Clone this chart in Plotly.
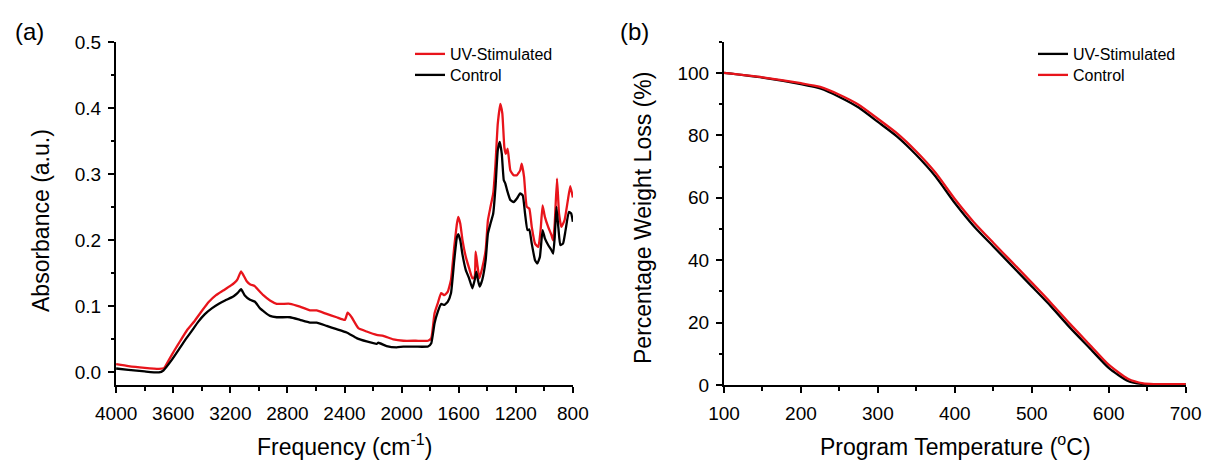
import plotly.graph_objects as go

# ---------------- (a) FTIR data ----------------
ftir_uv_wn = [4000, 3914, 3800, 3700, 3665, 3630, 3590, 3550, 3500, 3450, 3400, 3350, 3300, 3250,
              3200, 3170, 3150, 3125, 3105, 3085, 3060, 3030, 3000, 2969, 2922, 2875, 2782, 2712,
              2642, 2595, 2525, 2455, 2397, 2378, 2350, 2303, 2245, 2175, 2128, 2058, 1988, 1900,
              1815, 1792, 1769, 1746, 1723, 1700, 1677, 1654, 1631, 1612, 1603, 1589, 1573, 1550,
              1527, 1504, 1488, 1481, 1469, 1455, 1435, 1411, 1395, 1377, 1358, 1342, 1326, 1308,
              1294, 1280, 1270, 1257, 1238, 1215, 1192, 1169, 1158, 1142, 1123, 1105, 1088, 1065,
              1042, 1026, 1012, 996, 973, 950, 938, 927, 911, 897, 881, 858, 835, 818, 800]
ftir_uv_abs = [0.0125, 0.0095, 0.0070, 0.0055, 0.0065, 0.019, 0.034, 0.048, 0.065, 0.078, 0.093,
               0.107, 0.117, 0.124, 0.131, 0.136, 0.141, 0.153, 0.146, 0.138, 0.133, 0.131, 0.124,
               0.117, 0.109, 0.104, 0.104, 0.0997, 0.094, 0.094, 0.0886, 0.0836, 0.0796, 0.0906,
               0.0836, 0.067, 0.062, 0.057, 0.0554, 0.050, 0.048, 0.048, 0.048, 0.052, 0.0896,
               0.105, 0.120, 0.117, 0.122, 0.140, 0.190, 0.2256, 0.2356, 0.2256, 0.200, 0.175,
               0.158, 0.1425, 0.145, 0.183, 0.163, 0.1425, 0.158, 0.185, 0.2306, 0.2508, 0.271,
               0.316, 0.3766, 0.4068, 0.392, 0.341, 0.331, 0.339, 0.306, 0.2986, 0.2986, 0.306,
               0.316, 0.296, 0.251, 0.248, 0.2205, 0.195, 0.190, 0.2155, 0.253, 0.2356, 0.2205,
               0.208, 0.200, 0.2256, 0.2936, 0.2407, 0.2205, 0.2306, 0.2608, 0.282, 0.265]

ftir_ctrl_wn = [4000, 3914, 3800, 3700, 3669, 3610, 3560, 3517, 3470, 3424, 3380, 3330, 3280, 3237,
                3179, 3150, 3125, 3100, 3062, 3027, 2992, 2922, 2875, 2782, 2712, 2642, 2595, 2525,
                2455, 2385, 2315, 2245, 2175, 2163, 2105, 2035, 1988, 1900, 1815, 1792, 1769, 1746,
                1723, 1700, 1677, 1654, 1631, 1612, 1603, 1589, 1573, 1550, 1527, 1504, 1488, 1476,
                1465, 1453, 1435, 1411, 1395, 1377, 1358, 1342, 1326, 1312, 1298, 1284, 1273, 1261,
                1238, 1215, 1192, 1169, 1151, 1135, 1118, 1105, 1088, 1065, 1049, 1031, 1012, 996,
                973, 950, 938, 927, 915, 901, 888, 869, 851, 828, 812, 800]
ftir_ctrl_abs = [0.006, 0.004, 0.0015, 0.0, 0.003, 0.019, 0.035, 0.049, 0.063, 0.077, 0.088, 0.097,
                 0.104, 0.109, 0.115, 0.120, 0.126, 0.117, 0.110, 0.107, 0.097, 0.0856, 0.0836,
                 0.0836, 0.0796, 0.0755, 0.0755, 0.0705, 0.0655, 0.0604, 0.052, 0.047, 0.0433,
                 0.045, 0.040, 0.038, 0.039, 0.039, 0.0393, 0.0443, 0.0745, 0.092, 0.1037, 0.1022,
                 0.107, 0.120, 0.170, 0.2054, 0.2095, 0.200, 0.178, 0.155, 0.1425, 0.1274, 0.140,
                 0.1526, 0.140, 0.130, 0.140, 0.170, 0.2105, 0.2256, 0.2407, 0.281, 0.3364, 0.349,
                 0.331, 0.291, 0.286, 0.276, 0.261, 0.258, 0.2633, 0.271, 0.268, 0.2407, 0.2155,
                 0.2165, 0.195, 0.170, 0.165, 0.175, 0.2155, 0.203, 0.193, 0.185, 0.180, 0.2054,
                 0.2508, 0.218, 0.193, 0.195, 0.2155, 0.243, 0.2407, 0.228]

# ---------------- (b) TGA data ----------------
tga_temp = [100, 150, 200, 225, 250, 275, 300, 325, 350, 375, 400, 425, 450, 475, 500, 525, 550,
            575, 600, 625, 645, 660, 700]
tga_uv = [100, 98.5, 96.4, 95.0, 92.3, 88.9, 84.3, 79.6, 73.7, 66.8, 58.3, 50.8, 44.4, 38.0, 31.6,
          25.2, 18.3, 11.9, 5.5, 1.3, 0.3, 0.3, 0.3]
tga_ctrl = [100, 98.6, 96.7, 95.5, 93.0, 89.8, 85.3, 80.6, 74.8, 68.0, 59.6, 52.1, 45.6, 39.2, 32.8,
            26.3, 19.5, 13.0, 6.5, 2.0, 0.5, 0.3, 0.3]

x_ticks_a = [4000, 3600, 3200, 2800, 2400, 2000, 1600, 1200, 800]
y_ticks_a = [0.0, 0.1, 0.2, 0.3, 0.4, 0.5]
x_ticks_b = [100, 200, 300, 400, 500, 600, 700]
y_ticks_b = [0, 20, 40, 60, 80, 100]

RED = "#e8141b"
BLACK = "#000000"
FONT = "Liberation Sans, Arial, sans-serif"
W, H = 1205, 461

fig = go.Figure()
fig.add_trace(go.Scatter(x=ftir_uv_wn, y=ftir_uv_abs, mode="lines", name="UV-Stimulated",
                         line=dict(color=RED, width=2.3, shape="spline", smoothing=0.4),
                         xaxis="x", yaxis="y", legend="legend"))
fig.add_trace(go.Scatter(x=ftir_ctrl_wn, y=ftir_ctrl_abs, mode="lines", name="Control",
                         line=dict(color=BLACK, width=2.3, shape="spline", smoothing=0.4),
                         xaxis="x", yaxis="y", legend="legend2"))
fig.add_trace(go.Scatter(x=tga_temp, y=tga_uv, mode="lines", name="UV-Stimulated",
                         line=dict(color=BLACK, width=2.3, shape="spline", smoothing=0.6),
                         xaxis="x2", yaxis="y2", legend="legend3"))
fig.add_trace(go.Scatter(x=tga_temp, y=tga_ctrl, mode="lines", name="Control",
                         line=dict(color=RED, width=2.3, shape="spline", smoothing=0.6),
                         xaxis="x2", yaxis="y2", legend="legend4"))


def px_x(p):
    return p / W


def px_y(p):
    return 1 - p / H


axis_common = dict(showline=True, linewidth=2, linecolor="black", ticks="outside", ticklen=6,
                   tickwidth=1.5, tickcolor="black", showgrid=False, zeroline=False,
                   tickfont=dict(family=FONT, size=19, color="black"), automargin=False)
minor_common = dict(ticks="outside", ticklen=3.5, tickwidth=1.5, tickcolor="black", showgrid=False)

ydom = [px_y(385), px_y(41.7)]


def legend_at(xp, yp):
    return dict(x=px_x(xp), y=px_y(yp), xanchor="left", yanchor="top",
                bgcolor="rgba(0,0,0,0)", font=dict(family=FONT, size=16, color="black"))


fig.update_layout(
    width=W, height=H, margin=dict(l=0, r=0, t=0, b=0),
    paper_bgcolor="white", plot_bgcolor="white",
    font=dict(family=FONT, color="black"),
    xaxis=dict(domain=[px_x(116), px_x(573)], range=[4001, 799], tickvals=x_ticks_a,
               minor=dict(dtick=200, **minor_common), anchor="y", ticklabelstandoff=4,
               **axis_common),
    yaxis=dict(domain=ydom, range=[-0.019, 0.5008], tickvals=y_ticks_a, tickformat=".1f",
               minor=dict(dtick=0.05, **minor_common), anchor="x", ticklabelstandoff=3,
               **axis_common),
    xaxis2=dict(domain=[px_x(724), px_x(1186)], range=[100, 700.5], tickvals=x_ticks_b,
                minor=dict(dtick=50, **minor_common), anchor="y2", ticklabelstandoff=4,
                **axis_common),
    yaxis2=dict(domain=ydom, range=[0, 110], tickvals=y_ticks_b,
                minor=dict(dtick=10, **minor_common), anchor="x2", ticklabelstandoff=3,
                **axis_common),
    legend=legend_at(410, 37),
    legend2=legend_at(410, 58),
    legend3=legend_at(1033, 37),
    legend4=legend_at(1033, 58),
    showlegend=True,
)

ann_font = dict(family=FONT, size=23, color="black")
common_ann = dict(xref="paper", yref="paper", showarrow=False, xanchor="center", yanchor="middle")
fig.add_annotation(text="(a)", x=px_x(30), y=px_y(31), font=dict(family=FONT, size=24, color="black"),
                   **common_ann)
fig.add_annotation(text="(b)", x=px_x(634), y=px_y(31), font=dict(family=FONT, size=24, color="black"),
                   **common_ann)
fig.add_annotation(text="Absorbance (a.u.)", x=px_x(41), y=px_y(221), textangle=-90, font=ann_font,
                   **common_ann)
fig.add_annotation(text="Frequency (cm<sup>-1</sup>)", x=px_x(344), y=px_y(445), font=ann_font,
                   **common_ann)
fig.add_annotation(text="Percentage Weight Loss (%)", x=px_x(643), y=px_y(218), textangle=-90,
                   font=ann_font, **common_ann)
fig.add_annotation(text="Program Temperature (<sup>o</sup>C)", x=px_x(955), y=px_y(445),
                   font=ann_font, **common_ann)

fig.write_html("out.html", config={"displayModeBar": False},
               post_script="document.body.style.margin='0px';document.body.style.overflow='hidden';")
